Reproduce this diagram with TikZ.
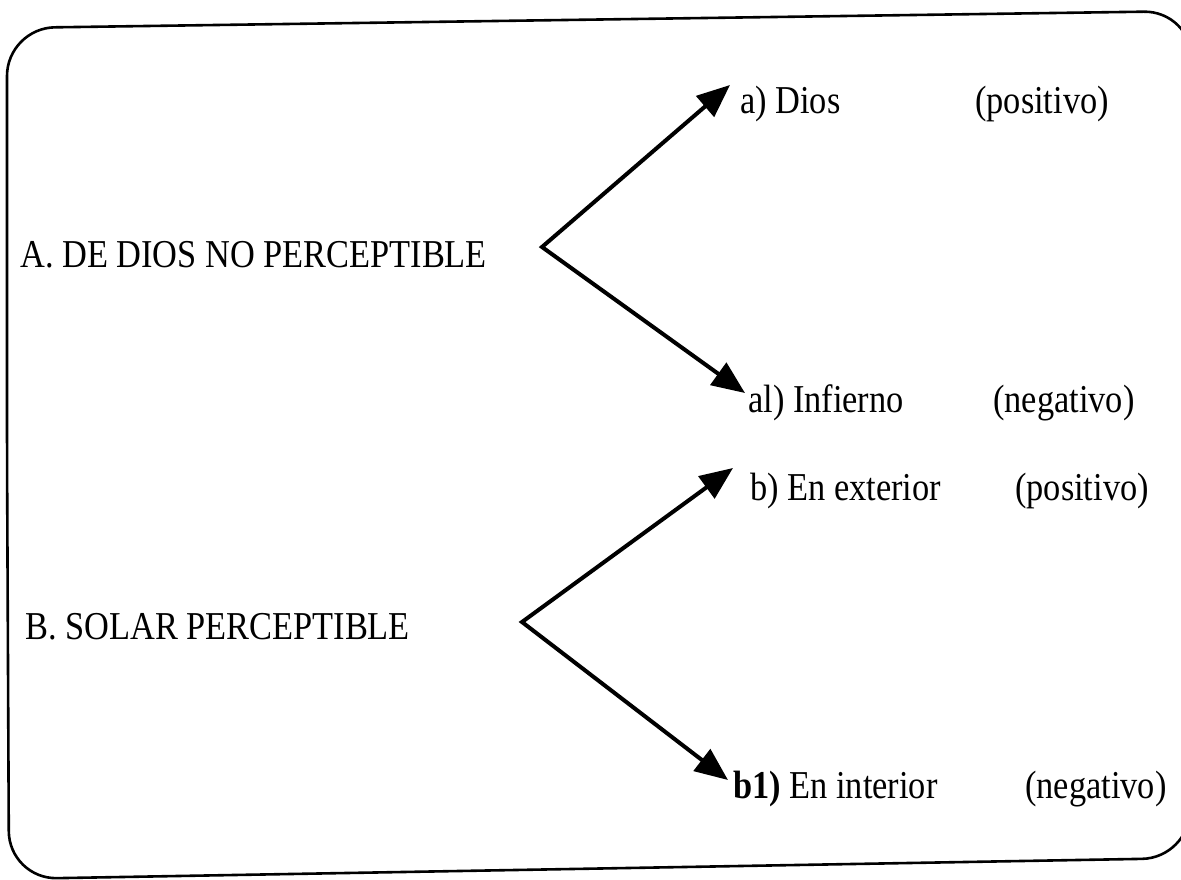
\documentclass[tikz,border=0pt]{standalone}
\usepackage{fontspec}
\setmainfont{Liberation Serif}[FakeStretch=0.87]
\usetikzlibrary{arrows.meta}
\begin{document}
\begin{tikzpicture}[x=1pt,y=-1pt,
  lbl/.style={anchor=base west, inner sep=0pt, font=\fontsize{39.5}{44}\selectfont},
  tipshape/.tip={Triangle[length=33pt,width=27pt]},
  fork/.style={line width=4pt, line join=miter, tipshape-tipshape},
  frame/.style={line width=2.6pt, rounded corners=48pt}]
\useasboundingbox (0,0) rectangle (1181,879);
\draw[frame] (7,450) -- (7,28) -- (1192,11) -- (1190,858) -- (9,879) -- cycle;

% group A
\node[lbl] (A) at (20,267) {A. DE DIOS NO PERCEPTIBLE};
\coordinate (av) at (542,247);
\coordinate (at1) at (730,85);
\coordinate (at2) at (745,393);
\draw[fork] (at1) -- (av) -- (at2);
\node[lbl] (a1) at (740,113) {a) Dios};
\node[lbl] (p1) at (975,113) {(positivo)};
\node[lbl] (a2) at (748,412) {al) Infierno};
\node[lbl] (n1) at (993,412) {(negativo)};

% group B
\node[lbl] (B) at (25,639) {B. SOLAR PERCEPTIBLE};
\coordinate (bv) at (522,622);
\coordinate (bt1) at (733,468);
\coordinate (bt2) at (728,780);
\draw[fork] (bt1) -- (bv) -- (bt2);
\node[lbl] (b1) at (750,500) {b) En exterior};
\node[lbl] (p2) at (1015,500) {(positivo)};
\node[lbl] (b2) at (733,798) {\textbf{b1)} En interior};
\node[lbl] (n2) at (1025,798) {(negativo)};
\end{tikzpicture}
\end{document}
